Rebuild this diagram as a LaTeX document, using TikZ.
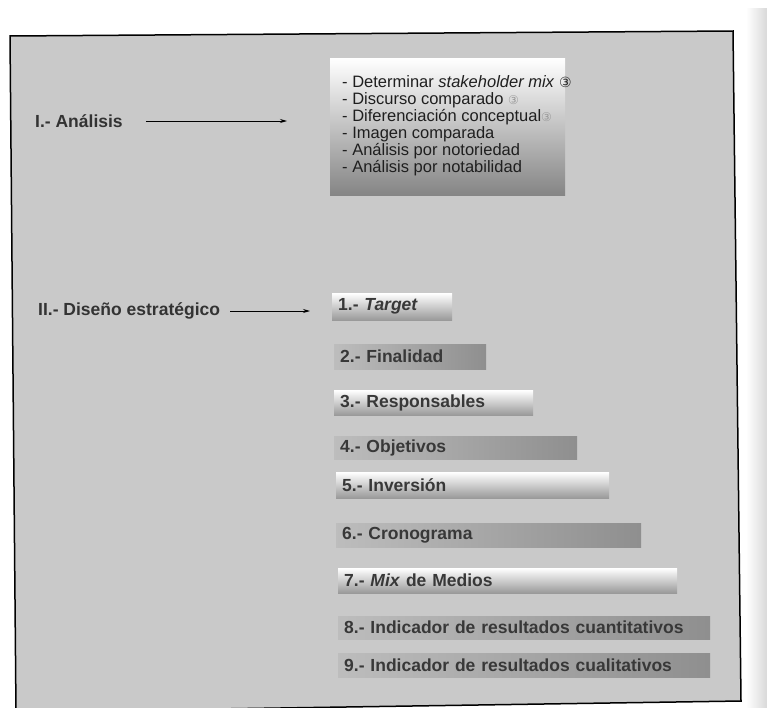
\documentclass[tikz,border=0pt]{standalone}
\usepackage{fontspec}
\setmainfont{Liberation Sans}
\newfontfamily\symfont{DejaVu Sans}
\usetikzlibrary{arrows.meta}
\newcommand{\circmark}[2]{{\color{#1}\symfont\fontsize{#2}{#2}\selectfont ③}}
\begin{document}
\begin{tikzpicture}[x=1pt,y=-1pt,
  lbl/.style={font=\fontsize{17.5}{20}\selectfont\bfseries, text=black!80, inner sep=0pt, anchor=west},
  barbase/.style={anchor=north west, inner xsep=6pt, inner ysep=0pt, align=left,
    font=\fontsize{17.5}{19}\selectfont\bfseries, text=black!78},
  barodd/.style={barbase, top color=white, middle color=black!24, bottom color=black!40},
  bareven/.style={barbase, left color=black!26, right color=black!44},
  arr/.style={-{Stealth[length=7pt,width=4pt]}, line width=0.8pt},
  itemtxt/.style={anchor=north west, inner sep=0pt, align=left,
    font=\fontsize{16.5}{17}\selectfont, text=black!88}
]
\useasboundingbox (0,0) rectangle (767,707);
% page edge beyond the frame
\shade[left color=white, right color=black!15] (746,8) rectangle (767,707);
% frame
\filldraw[fill=black!21, draw=black, line width=1.5pt]
  (10,36) -- (733,31) -- (741,701) -- (16,712) -- cycle;

% analysis box
\node[anchor=north west, minimum width=235pt, minimum height=137pt, inner sep=0pt,
  top color=white, middle color=black!20, bottom color=black!48] (box) at (330,58) {};
\node[itemtxt] (boxtext) at (342,75) {%
- Determinar \textit{stakeholder mix} \circmark{black!85}{14}\\
- Discurso comparado \circmark{black!40}{12}\\
- Diferenciación conceptual\circmark{black!40}{12}\\
- Imagen comparada\\
- Análisis por notoriedad\\
- Análisis por notabilidad};

% left labels
\node[lbl] (l1) at (35,121) {I.- Análisis};
\node[lbl] (l2) at (38,311) {II.- Diseño estratégico};

% bars
\node[barodd, minimum height=27pt, text width=108pt] (b1) at (332,293) {1.- \textit{Target}};
\node[bareven, minimum height=25pt, text width=140pt] (b2) at (334,344) {2.- Finalidad};
\node[barodd, minimum height=25pt, text width=187pt] (b3) at (334,390) {3.- Responsables};
\node[bareven, minimum height=23pt, text width=231pt] (b4) at (334,436) {4.- Objetivos};
\node[barodd, minimum height=26pt, text width=261pt] (b5) at (336,472) {5.- Inversión};
\node[bareven, minimum height=24pt, text width=293pt] (b6) at (336,523) {6.- Cronograma};
\node[barodd, minimum height=25pt, text width=327pt] (b7) at (338,568) {7.- \textit{Mix} de Medios};
\node[bareven, minimum height=23pt, text width=360pt] (b8) at (338,616) {8.- Indicador de resultados cuantitativos};
\node[bareven, minimum height=24pt, text width=360pt] (b9) at (338,653) {9.- Indicador de resultados cualitativos};

% arrows
\draw[arr] ([xshift=23pt]l1.east) -- ([xshift=-43pt]l1.east -| box.west);
\draw[arr] ([xshift=10pt]l2.east) -- ([xshift=-22pt]l2.east -| b1.west);
\end{tikzpicture}
\end{document}
